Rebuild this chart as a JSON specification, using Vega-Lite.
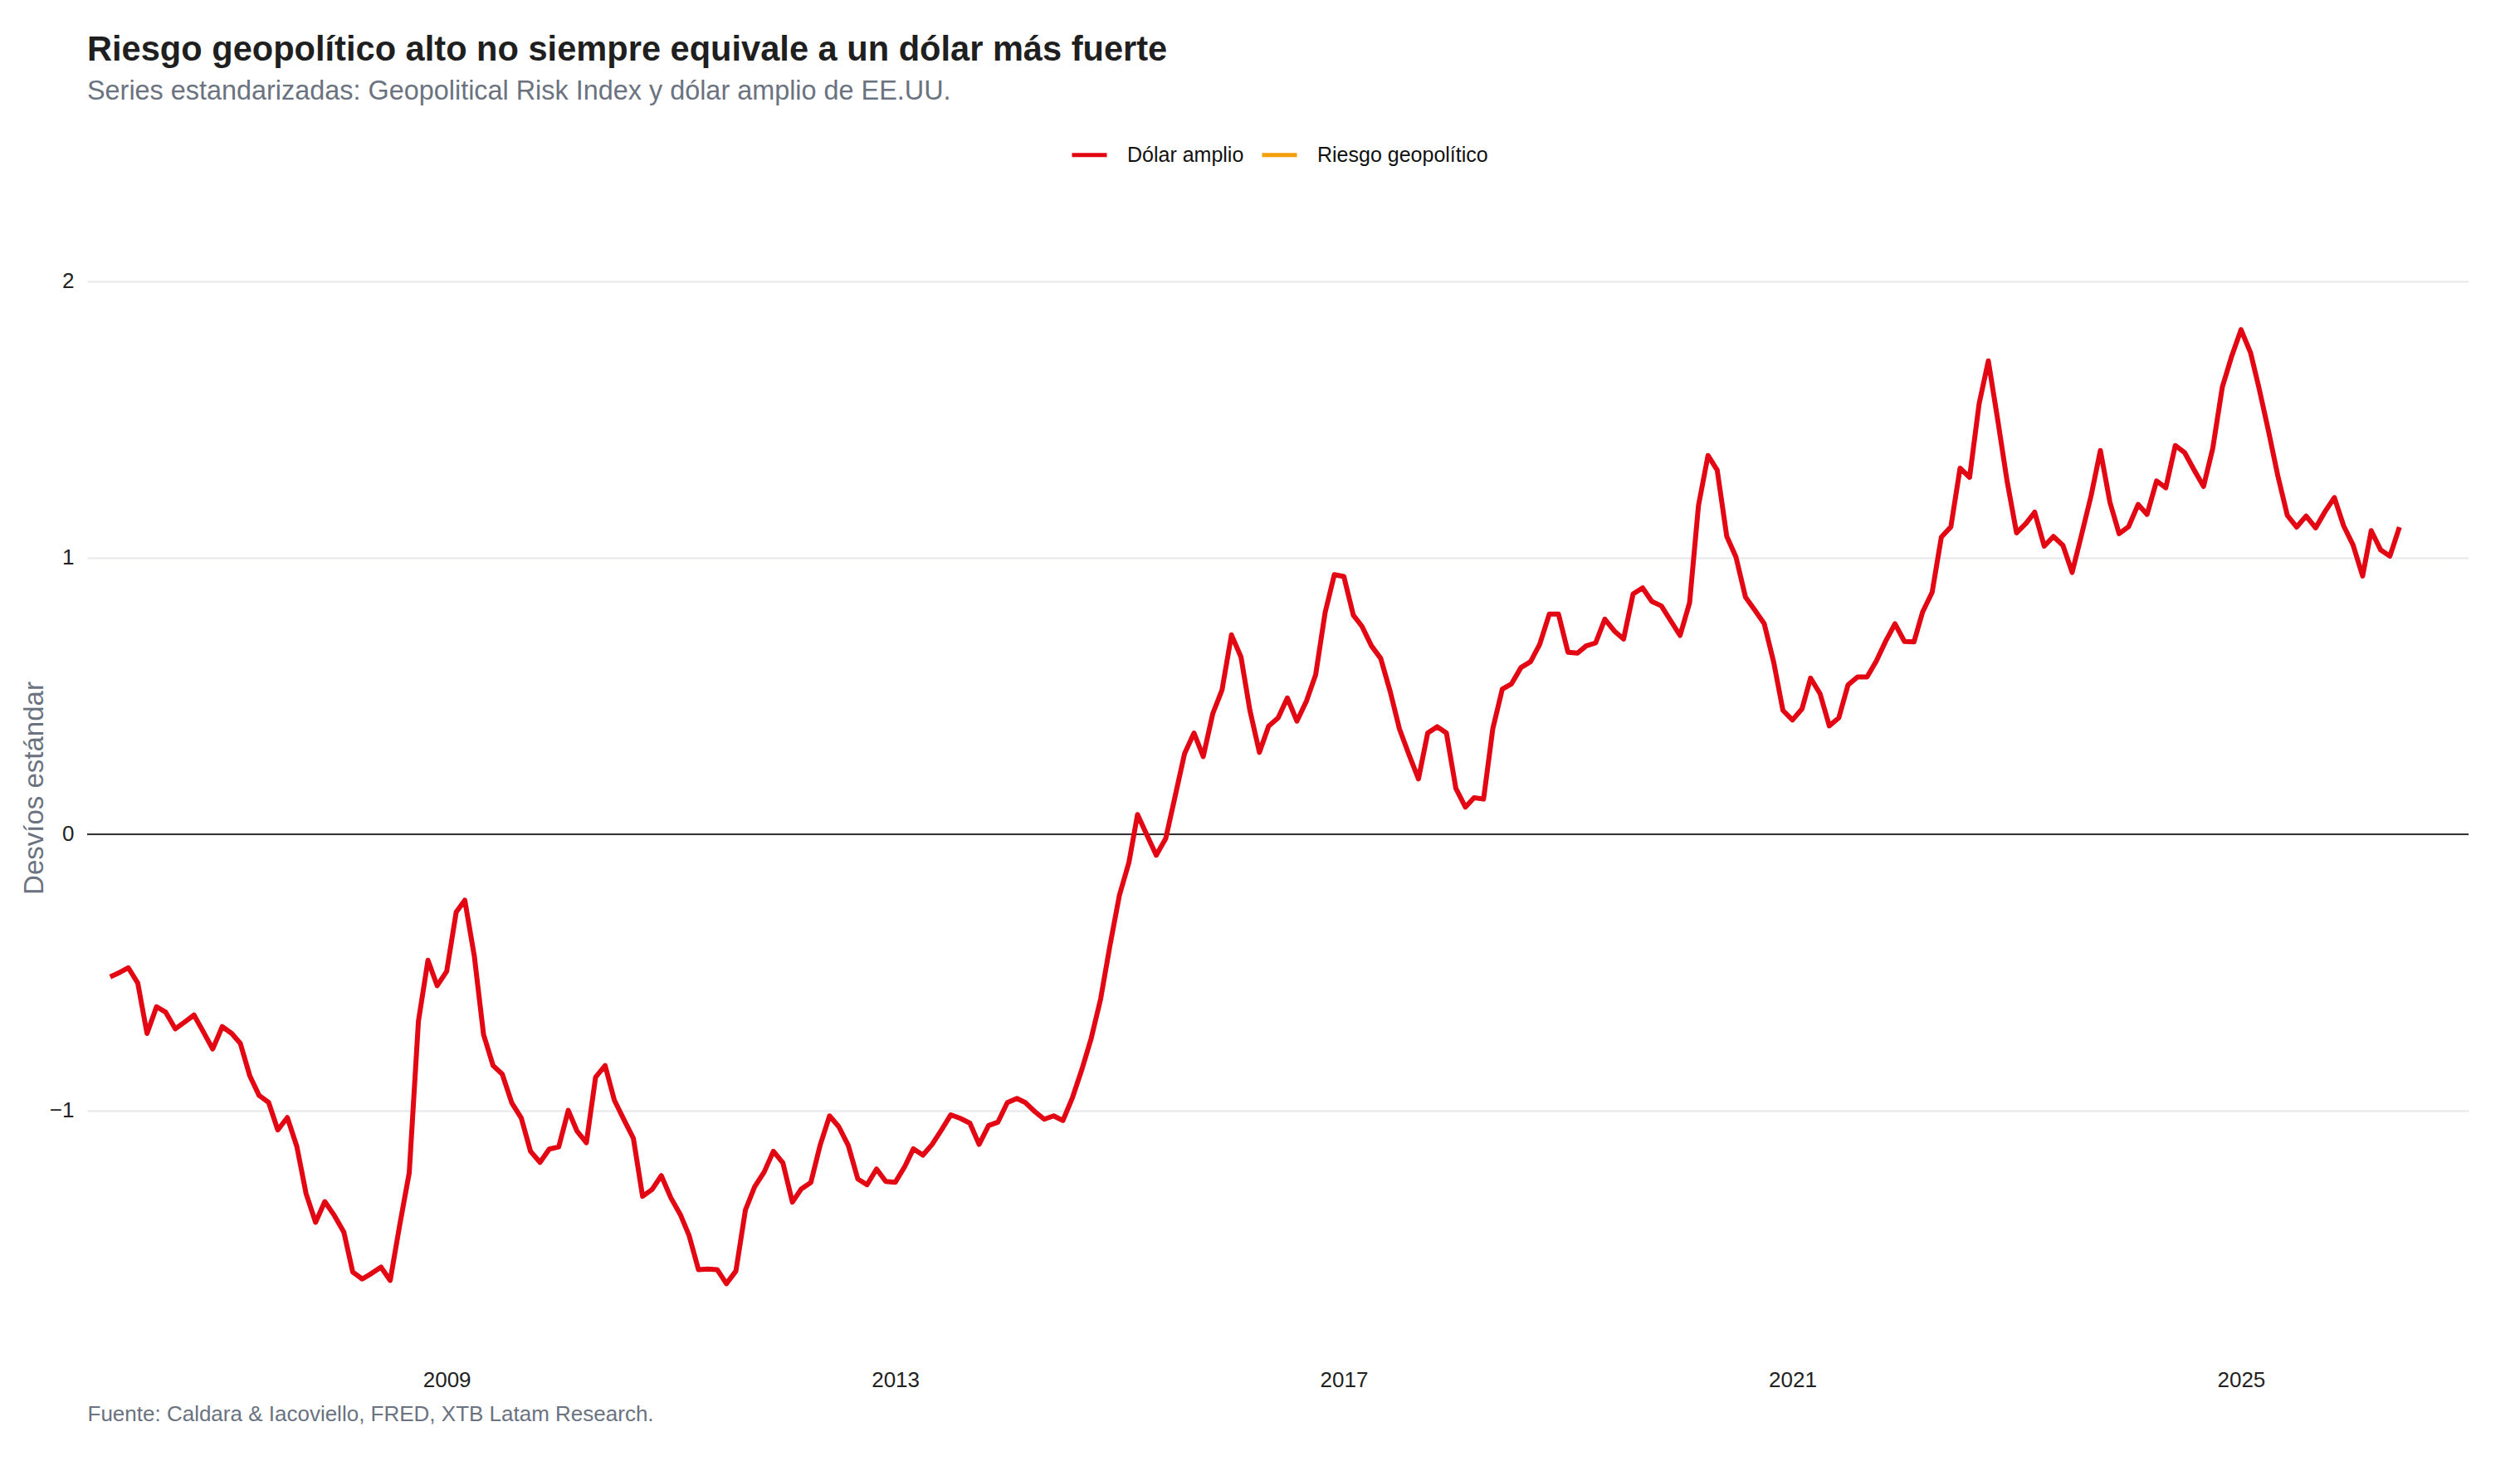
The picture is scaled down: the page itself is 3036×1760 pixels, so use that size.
{
  "$schema": "https://vega.github.io/schema/vega-lite/v6.json",
  "width": 2869,
  "height": 1410,
  "autosize": {"type": "none"},
  "padding": {"left": 105, "top": 230, "right": 62, "bottom": 120},
  "background": "white",
  "config": {"font": "Liberation Sans", "view": {"stroke": null}},
  "title": {
    "text": "Riesgo geopolítico alto no siempre equivale a un dólar más fuerte",
    "subtitle": "Series estandarizadas: Geopolitical Risk Index y dólar amplio de EE.UU.",
    "anchor": "start",
    "frame": "group",
    "font": "Liberation Sans",
    "fontSize": 41.6,
    "fontWeight": "bold",
    "color": "#1f1f1f",
    "subtitleFont": "Liberation Sans",
    "subtitleFontSize": 32.4,
    "subtitleColor": "#6b7280",
    "subtitlePadding": 12,
    "offset": 37
  },
  "layer": [
    {
      "data": {"values": [{"valor": 0}]},
      "mark": {"type": "rule", "color": "#333333", "strokeWidth": 2},
      "encoding": {
        "y": {"field": "valor", "type": "quantitative", "title": "Desvíos estándar",
              "scale": {"domain": [-1.907, 2.327], "nice": false, "zero": false}}
      }
    },
    {
      "data": {"values": [
        {"fecha":"2006-01-01","serie":"Dólar amplio","valor":-0.516},
        {"fecha":"2006-02-01","serie":"Dólar amplio","valor":-0.500},
        {"fecha":"2006-03-01","serie":"Dólar amplio","valor":-0.483},
        {"fecha":"2006-04-01","serie":"Dólar amplio","valor":-0.539},
        {"fecha":"2006-05-01","serie":"Dólar amplio","valor":-0.721},
        {"fecha":"2006-06-01","serie":"Dólar amplio","valor":-0.624},
        {"fecha":"2006-07-01","serie":"Dólar amplio","valor":-0.644},
        {"fecha":"2006-08-01","serie":"Dólar amplio","valor":-0.704},
        {"fecha":"2006-09-01","serie":"Dólar amplio","valor":-0.679},
        {"fecha":"2006-10-01","serie":"Dólar amplio","valor":-0.654},
        {"fecha":"2006-11-01","serie":"Dólar amplio","valor":-0.716},
        {"fecha":"2006-12-01","serie":"Dólar amplio","valor":-0.777},
        {"fecha":"2007-01-01","serie":"Dólar amplio","valor":-0.696},
        {"fecha":"2007-02-01","serie":"Dólar amplio","valor":-0.721},
        {"fecha":"2007-03-01","serie":"Dólar amplio","valor":-0.757},
        {"fecha":"2007-04-01","serie":"Dólar amplio","valor":-0.875},
        {"fecha":"2007-05-01","serie":"Dólar amplio","valor":-0.945},
        {"fecha":"2007-06-01","serie":"Dólar amplio","valor":-0.970},
        {"fecha":"2007-07-01","serie":"Dólar amplio","valor":-1.070},
        {"fecha":"2007-08-01","serie":"Dólar amplio","valor":-1.025},
        {"fecha":"2007-09-01","serie":"Dólar amplio","valor":-1.130},
        {"fecha":"2007-10-01","serie":"Dólar amplio","valor":-1.300},
        {"fecha":"2007-11-01","serie":"Dólar amplio","valor":-1.404},
        {"fecha":"2007-12-01","serie":"Dólar amplio","valor":-1.329},
        {"fecha":"2008-01-01","serie":"Dólar amplio","valor":-1.379},
        {"fecha":"2008-02-01","serie":"Dólar amplio","valor":-1.439},
        {"fecha":"2008-03-01","serie":"Dólar amplio","valor":-1.584},
        {"fecha":"2008-04-01","serie":"Dólar amplio","valor":-1.609},
        {"fecha":"2008-05-01","serie":"Dólar amplio","valor":-1.589},
        {"fecha":"2008-06-01","serie":"Dólar amplio","valor":-1.566},
        {"fecha":"2008-07-01","serie":"Dólar amplio","valor":-1.614},
        {"fecha":"2008-08-01","serie":"Dólar amplio","valor":-1.414},
        {"fecha":"2008-09-01","serie":"Dólar amplio","valor":-1.225},
        {"fecha":"2008-10-01","serie":"Dólar amplio","valor":-0.676},
        {"fecha":"2008-11-01","serie":"Dólar amplio","valor":-0.456},
        {"fecha":"2008-12-01","serie":"Dólar amplio","valor":-0.548},
        {"fecha":"2009-01-01","serie":"Dólar amplio","valor":-0.496},
        {"fecha":"2009-02-01","serie":"Dólar amplio","valor":-0.282},
        {"fecha":"2009-03-01","serie":"Dólar amplio","valor":-0.239},
        {"fecha":"2009-04-01","serie":"Dólar amplio","valor":-0.441},
        {"fecha":"2009-05-01","serie":"Dólar amplio","valor":-0.724},
        {"fecha":"2009-06-01","serie":"Dólar amplio","valor":-0.837},
        {"fecha":"2009-07-01","serie":"Dólar amplio","valor":-0.868},
        {"fecha":"2009-08-01","serie":"Dólar amplio","valor":-0.972},
        {"fecha":"2009-09-01","serie":"Dólar amplio","valor":-1.027},
        {"fecha":"2009-10-01","serie":"Dólar amplio","valor":-1.147},
        {"fecha":"2009-11-01","serie":"Dólar amplio","valor":-1.187},
        {"fecha":"2009-12-01","serie":"Dólar amplio","valor":-1.139},
        {"fecha":"2010-01-01","serie":"Dólar amplio","valor":-1.131},
        {"fecha":"2010-02-01","serie":"Dólar amplio","valor":-0.999},
        {"fecha":"2010-03-01","serie":"Dólar amplio","valor":-1.073},
        {"fecha":"2010-04-01","serie":"Dólar amplio","valor":-1.116},
        {"fecha":"2010-05-01","serie":"Dólar amplio","valor":-0.879},
        {"fecha":"2010-06-01","serie":"Dólar amplio","valor":-0.837},
        {"fecha":"2010-07-01","serie":"Dólar amplio","valor":-0.962},
        {"fecha":"2010-08-01","serie":"Dólar amplio","valor":-1.032},
        {"fecha":"2010-09-01","serie":"Dólar amplio","valor":-1.100},
        {"fecha":"2010-10-01","serie":"Dólar amplio","valor":-1.310},
        {"fecha":"2010-11-01","serie":"Dólar amplio","valor":-1.285},
        {"fecha":"2010-12-01","serie":"Dólar amplio","valor":-1.235},
        {"fecha":"2011-01-01","serie":"Dólar amplio","valor":-1.315},
        {"fecha":"2011-02-01","serie":"Dólar amplio","valor":-1.376},
        {"fecha":"2011-03-01","serie":"Dólar amplio","valor":-1.450},
        {"fecha":"2011-04-01","serie":"Dólar amplio","valor":-1.575},
        {"fecha":"2011-05-01","serie":"Dólar amplio","valor":-1.573},
        {"fecha":"2011-06-01","serie":"Dólar amplio","valor":-1.575},
        {"fecha":"2011-07-01","serie":"Dólar amplio","valor":-1.626},
        {"fecha":"2011-08-01","serie":"Dólar amplio","valor":-1.580},
        {"fecha":"2011-09-01","serie":"Dólar amplio","valor":-1.359},
        {"fecha":"2011-10-01","serie":"Dólar amplio","valor":-1.275},
        {"fecha":"2011-11-01","serie":"Dólar amplio","valor":-1.222},
        {"fecha":"2011-12-01","serie":"Dólar amplio","valor":-1.147},
        {"fecha":"2012-01-01","serie":"Dólar amplio","valor":-1.189},
        {"fecha":"2012-02-01","serie":"Dólar amplio","valor":-1.331},
        {"fecha":"2012-03-01","serie":"Dólar amplio","valor":-1.283},
        {"fecha":"2012-04-01","serie":"Dólar amplio","valor":-1.260},
        {"fecha":"2012-05-01","serie":"Dólar amplio","valor":-1.126},
        {"fecha":"2012-06-01","serie":"Dólar amplio","valor":-1.019},
        {"fecha":"2012-07-01","serie":"Dólar amplio","valor":-1.058},
        {"fecha":"2012-08-01","serie":"Dólar amplio","valor":-1.126},
        {"fecha":"2012-09-01","serie":"Dólar amplio","valor":-1.247},
        {"fecha":"2012-10-01","serie":"Dólar amplio","valor":-1.268},
        {"fecha":"2012-11-01","serie":"Dólar amplio","valor":-1.211},
        {"fecha":"2012-12-01","serie":"Dólar amplio","valor":-1.256},
        {"fecha":"2013-01-01","serie":"Dólar amplio","valor":-1.259},
        {"fecha":"2013-02-01","serie":"Dólar amplio","valor":-1.202},
        {"fecha":"2013-03-01","serie":"Dólar amplio","valor":-1.138},
        {"fecha":"2013-04-01","serie":"Dólar amplio","valor":-1.161},
        {"fecha":"2013-05-01","serie":"Dólar amplio","valor":-1.122},
        {"fecha":"2013-06-01","serie":"Dólar amplio","valor":-1.069},
        {"fecha":"2013-07-01","serie":"Dólar amplio","valor":-1.015},
        {"fecha":"2013-08-01","serie":"Dólar amplio","valor":-1.028},
        {"fecha":"2013-09-01","serie":"Dólar amplio","valor":-1.045},
        {"fecha":"2013-10-01","serie":"Dólar amplio","valor":-1.122},
        {"fecha":"2013-11-01","serie":"Dólar amplio","valor":-1.054},
        {"fecha":"2013-12-01","serie":"Dólar amplio","valor":-1.042},
        {"fecha":"2014-01-01","serie":"Dólar amplio","valor":-0.971},
        {"fecha":"2014-02-01","serie":"Dólar amplio","valor":-0.956},
        {"fecha":"2014-03-01","serie":"Dólar amplio","valor":-0.971},
        {"fecha":"2014-04-01","serie":"Dólar amplio","valor":-1.004},
        {"fecha":"2014-05-01","serie":"Dólar amplio","valor":-1.031},
        {"fecha":"2014-06-01","serie":"Dólar amplio","valor":-1.019},
        {"fecha":"2014-07-01","serie":"Dólar amplio","valor":-1.036},
        {"fecha":"2014-08-01","serie":"Dólar amplio","valor":-0.953},
        {"fecha":"2014-09-01","serie":"Dólar amplio","valor":-0.850},
        {"fecha":"2014-10-01","serie":"Dólar amplio","valor":-0.739},
        {"fecha":"2014-11-01","serie":"Dólar amplio","valor":-0.595},
        {"fecha":"2014-12-01","serie":"Dólar amplio","valor":-0.404},
        {"fecha":"2015-01-01","serie":"Dólar amplio","valor":-0.221},
        {"fecha":"2015-02-01","serie":"Dólar amplio","valor":-0.102},
        {"fecha":"2015-03-01","serie":"Dólar amplio","valor":0.071},
        {"fecha":"2015-04-01","serie":"Dólar amplio","valor":-0.004},
        {"fecha":"2015-05-01","serie":"Dólar amplio","valor":-0.076},
        {"fecha":"2015-06-01","serie":"Dólar amplio","valor":-0.015},
        {"fecha":"2015-07-01","serie":"Dólar amplio","valor":0.135},
        {"fecha":"2015-08-01","serie":"Dólar amplio","valor":0.291},
        {"fecha":"2015-09-01","serie":"Dólar amplio","valor":0.366},
        {"fecha":"2015-10-01","serie":"Dólar amplio","valor":0.281},
        {"fecha":"2015-11-01","serie":"Dólar amplio","valor":0.436},
        {"fecha":"2015-12-01","serie":"Dólar amplio","valor":0.521},
        {"fecha":"2016-01-01","serie":"Dólar amplio","valor":0.721},
        {"fecha":"2016-02-01","serie":"Dólar amplio","valor":0.641},
        {"fecha":"2016-03-01","serie":"Dólar amplio","valor":0.448},
        {"fecha":"2016-04-01","serie":"Dólar amplio","valor":0.296},
        {"fecha":"2016-05-01","serie":"Dólar amplio","valor":0.391},
        {"fecha":"2016-06-01","serie":"Dólar amplio","valor":0.421},
        {"fecha":"2016-07-01","serie":"Dólar amplio","valor":0.493},
        {"fecha":"2016-08-01","serie":"Dólar amplio","valor":0.409},
        {"fecha":"2016-09-01","serie":"Dólar amplio","valor":0.481},
        {"fecha":"2016-10-01","serie":"Dólar amplio","valor":0.576},
        {"fecha":"2016-11-01","serie":"Dólar amplio","valor":0.802},
        {"fecha":"2016-12-01","serie":"Dólar amplio","valor":0.939},
        {"fecha":"2017-01-01","serie":"Dólar amplio","valor":0.932},
        {"fecha":"2017-02-01","serie":"Dólar amplio","valor":0.792},
        {"fecha":"2017-03-01","serie":"Dólar amplio","valor":0.752},
        {"fecha":"2017-04-01","serie":"Dólar amplio","valor":0.681},
        {"fecha":"2017-05-01","serie":"Dólar amplio","valor":0.636},
        {"fecha":"2017-06-01","serie":"Dólar amplio","valor":0.516},
        {"fecha":"2017-07-01","serie":"Dólar amplio","valor":0.381},
        {"fecha":"2017-08-01","serie":"Dólar amplio","valor":0.288},
        {"fecha":"2017-09-01","serie":"Dólar amplio","valor":0.200},
        {"fecha":"2017-10-01","serie":"Dólar amplio","valor":0.366},
        {"fecha":"2017-11-01","serie":"Dólar amplio","valor":0.389},
        {"fecha":"2017-12-01","serie":"Dólar amplio","valor":0.366},
        {"fecha":"2018-01-01","serie":"Dólar amplio","valor":0.165},
        {"fecha":"2018-02-01","serie":"Dólar amplio","valor":0.098},
        {"fecha":"2018-03-01","serie":"Dólar amplio","valor":0.132},
        {"fecha":"2018-04-01","serie":"Dólar amplio","valor":0.127},
        {"fecha":"2018-05-01","serie":"Dólar amplio","valor":0.381},
        {"fecha":"2018-06-01","serie":"Dólar amplio","valor":0.525},
        {"fecha":"2018-07-01","serie":"Dólar amplio","valor":0.544},
        {"fecha":"2018-08-01","serie":"Dólar amplio","valor":0.603},
        {"fecha":"2018-09-01","serie":"Dólar amplio","valor":0.624},
        {"fecha":"2018-10-01","serie":"Dólar amplio","valor":0.687},
        {"fecha":"2018-11-01","serie":"Dólar amplio","valor":0.796},
        {"fecha":"2018-12-01","serie":"Dólar amplio","valor":0.796},
        {"fecha":"2019-01-01","serie":"Dólar amplio","valor":0.658},
        {"fecha":"2019-02-01","serie":"Dólar amplio","valor":0.655},
        {"fecha":"2019-03-01","serie":"Dólar amplio","valor":0.681},
        {"fecha":"2019-04-01","serie":"Dólar amplio","valor":0.692},
        {"fecha":"2019-05-01","serie":"Dólar amplio","valor":0.778},
        {"fecha":"2019-06-01","serie":"Dólar amplio","valor":0.735},
        {"fecha":"2019-07-01","serie":"Dólar amplio","valor":0.706},
        {"fecha":"2019-08-01","serie":"Dólar amplio","valor":0.869},
        {"fecha":"2019-09-01","serie":"Dólar amplio","valor":0.891},
        {"fecha":"2019-10-01","serie":"Dólar amplio","valor":0.842},
        {"fecha":"2019-11-01","serie":"Dólar amplio","valor":0.826},
        {"fecha":"2019-12-01","serie":"Dólar amplio","valor":0.773},
        {"fecha":"2020-01-01","serie":"Dólar amplio","valor":0.719},
        {"fecha":"2020-02-01","serie":"Dólar amplio","valor":0.837},
        {"fecha":"2020-03-01","serie":"Dólar amplio","valor":1.189},
        {"fecha":"2020-04-01","serie":"Dólar amplio","valor":1.370},
        {"fecha":"2020-05-01","serie":"Dólar amplio","valor":1.317},
        {"fecha":"2020-06-01","serie":"Dólar amplio","valor":1.078},
        {"fecha":"2020-07-01","serie":"Dólar amplio","valor":1.003},
        {"fecha":"2020-08-01","serie":"Dólar amplio","valor":0.858},
        {"fecha":"2020-09-01","serie":"Dólar amplio","valor":0.810},
        {"fecha":"2020-10-01","serie":"Dólar amplio","valor":0.762},
        {"fecha":"2020-11-01","serie":"Dólar amplio","valor":0.622},
        {"fecha":"2020-12-01","serie":"Dólar amplio","valor":0.448},
        {"fecha":"2021-01-01","serie":"Dólar amplio","valor":0.413},
        {"fecha":"2021-02-01","serie":"Dólar amplio","valor":0.453},
        {"fecha":"2021-03-01","serie":"Dólar amplio","valor":0.565},
        {"fecha":"2021-04-01","serie":"Dólar amplio","valor":0.508},
        {"fecha":"2021-05-01","serie":"Dólar amplio","valor":0.392},
        {"fecha":"2021-06-01","serie":"Dólar amplio","valor":0.421},
        {"fecha":"2021-07-01","serie":"Dólar amplio","valor":0.540},
        {"fecha":"2021-08-01","serie":"Dólar amplio","valor":0.569},
        {"fecha":"2021-09-01","serie":"Dólar amplio","valor":0.569},
        {"fecha":"2021-10-01","serie":"Dólar amplio","valor":0.626},
        {"fecha":"2021-11-01","serie":"Dólar amplio","valor":0.699},
        {"fecha":"2021-12-01","serie":"Dólar amplio","valor":0.761},
        {"fecha":"2022-01-01","serie":"Dólar amplio","valor":0.697},
        {"fecha":"2022-02-01","serie":"Dólar amplio","valor":0.696},
        {"fecha":"2022-03-01","serie":"Dólar amplio","valor":0.804},
        {"fecha":"2022-04-01","serie":"Dólar amplio","valor":0.875},
        {"fecha":"2022-05-01","serie":"Dólar amplio","valor":1.075},
        {"fecha":"2022-06-01","serie":"Dólar amplio","valor":1.112},
        {"fecha":"2022-07-01","serie":"Dólar amplio","valor":1.324},
        {"fecha":"2022-08-01","serie":"Dólar amplio","valor":1.291},
        {"fecha":"2022-09-01","serie":"Dólar amplio","valor":1.557},
        {"fecha":"2022-10-01","serie":"Dólar amplio","valor":1.712},
        {"fecha":"2022-11-01","serie":"Dólar amplio","valor":1.496},
        {"fecha":"2022-12-01","serie":"Dólar amplio","valor":1.278},
        {"fecha":"2023-01-01","serie":"Dólar amplio","valor":1.090},
        {"fecha":"2023-02-01","serie":"Dólar amplio","valor":1.125},
        {"fecha":"2023-03-01","serie":"Dólar amplio","valor":1.165},
        {"fecha":"2023-04-01","serie":"Dólar amplio","valor":1.042},
        {"fecha":"2023-05-01","serie":"Dólar amplio","valor":1.077},
        {"fecha":"2023-06-01","serie":"Dólar amplio","valor":1.045},
        {"fecha":"2023-07-01","serie":"Dólar amplio","valor":0.947},
        {"fecha":"2023-08-01","serie":"Dólar amplio","valor":1.085},
        {"fecha":"2023-09-01","serie":"Dólar amplio","valor":1.226},
        {"fecha":"2023-10-01","serie":"Dólar amplio","valor":1.388},
        {"fecha":"2023-11-01","serie":"Dólar amplio","valor":1.201},
        {"fecha":"2023-12-01","serie":"Dólar amplio","valor":1.087},
        {"fecha":"2024-01-01","serie":"Dólar amplio","valor":1.113},
        {"fecha":"2024-02-01","serie":"Dólar amplio","valor":1.193},
        {"fecha":"2024-03-01","serie":"Dólar amplio","valor":1.157},
        {"fecha":"2024-04-01","serie":"Dólar amplio","valor":1.278},
        {"fecha":"2024-05-01","serie":"Dólar amplio","valor":1.253},
        {"fecha":"2024-06-01","serie":"Dólar amplio","valor":1.406},
        {"fecha":"2024-07-01","serie":"Dólar amplio","valor":1.381},
        {"fecha":"2024-08-01","serie":"Dólar amplio","valor":1.318},
        {"fecha":"2024-09-01","serie":"Dólar amplio","valor":1.258},
        {"fecha":"2024-10-01","serie":"Dólar amplio","valor":1.396},
        {"fecha":"2024-11-01","serie":"Dólar amplio","valor":1.617},
        {"fecha":"2024-12-01","serie":"Dólar amplio","valor":1.727},
        {"fecha":"2025-01-01","serie":"Dólar amplio","valor":1.825},
        {"fecha":"2025-02-01","serie":"Dólar amplio","valor":1.742},
        {"fecha":"2025-03-01","serie":"Dólar amplio","valor":1.612},
        {"fecha":"2025-04-01","serie":"Dólar amplio","valor":1.456},
        {"fecha":"2025-05-01","serie":"Dólar amplio","valor":1.296},
        {"fecha":"2025-06-01","serie":"Dólar amplio","valor":1.153},
        {"fecha":"2025-07-01","serie":"Dólar amplio","valor":1.111},
        {"fecha":"2025-08-01","serie":"Dólar amplio","valor":1.151},
        {"fecha":"2025-09-01","serie":"Dólar amplio","valor":1.108},
        {"fecha":"2025-10-01","serie":"Dólar amplio","valor":1.166},
        {"fecha":"2025-11-01","serie":"Dólar amplio","valor":1.218},
        {"fecha":"2025-12-01","serie":"Dólar amplio","valor":1.116},
        {"fecha":"2026-01-01","serie":"Dólar amplio","valor":1.046},
        {"fecha":"2026-02-01","serie":"Dólar amplio","valor":0.934},
        {"fecha":"2026-03-01","serie":"Dólar amplio","valor":1.098},
        {"fecha":"2026-04-01","serie":"Dólar amplio","valor":1.028},
        {"fecha":"2026-05-01","serie":"Dólar amplio","valor":1.006},
        {"fecha":"2026-06-01","serie":"Dólar amplio","valor":1.111}
      ]},
      "mark": {"type": "line", "strokeWidth": 6, "strokeJoin": "round"},
      "encoding": {
        "x": {
          "field": "fecha", "type": "temporal",
          "scale": {"type": "utc", "domain": [{"year": 2005, "month": 10, "date": 18, "utc": true}, {"year": 2027, "month": 1, "date": 12, "utc": true}]},
          "axis": {
            "values": [{"year": 2009, "utc": true}, {"year": 2013, "utc": true}, {"year": 2017, "utc": true}, {"year": 2021, "utc": true}, {"year": 2025, "utc": true}],
            "format": "%Y",
            "grid": false, "ticks": false, "domain": false,
            "labelFont": "Liberation Sans", "labelFontSize": 26, "labelColor": "#222222", "labelPadding": 9, "labelFlush": false,
            "title": "Fuente: Caldara & Iacoviello, FRED, XTB Latam Research.",
            "titleAnchor": "start", "titleAlign": "left",
            "titleFont": "Liberation Sans", "titleFontSize": 26, "titleFontWeight": "normal", "titleColor": "#6b7280", "titlePadding": 15
          }
        },
        "y": {
          "field": "valor", "type": "quantitative", "title": "Desvíos estándar",
          "scale": {"domain": [-1.907, 2.327], "nice": false, "zero": false},
          "axis": {
            "values": [-1, 0, 1, 2],
            "format": "d",
            "grid": true, "gridColor": "#e5e7eb", "gridWidth": 2,
            "ticks": false, "domain": false,
            "labelFont": "Liberation Sans", "labelFontSize": 26, "labelColor": "#222222", "labelPadding": 16,
            "titleFont": "Liberation Sans", "titleFontSize": 33, "titleFontWeight": "normal", "titleColor": "#6b7280",
            "titleX": -47, "titleY": 719, "titleBaseline": "bottom"
          }
        },
        "color": {
          "field": "serie", "type": "nominal",
          "scale": {"domain": ["Dólar amplio", "Riesgo geopolítico"], "range": ["#e30613", "#f59e0b"]},
          "legend": {
            "orient": "none", "legendX": 1184, "legendY": -67, "direction": "horizontal", "title": null,
            "symbolType": "stroke", "symbolSize": 1764, "symbolStrokeWidth": 5,
            "labelFont": "Liberation Sans", "labelFontSize": 25, "labelColor": "#111111", "labelOffset": 22, "labelLimit": 400,
            "columnPadding": 11, "padding": 0
          }
        }
      }
    }
  ]
}
